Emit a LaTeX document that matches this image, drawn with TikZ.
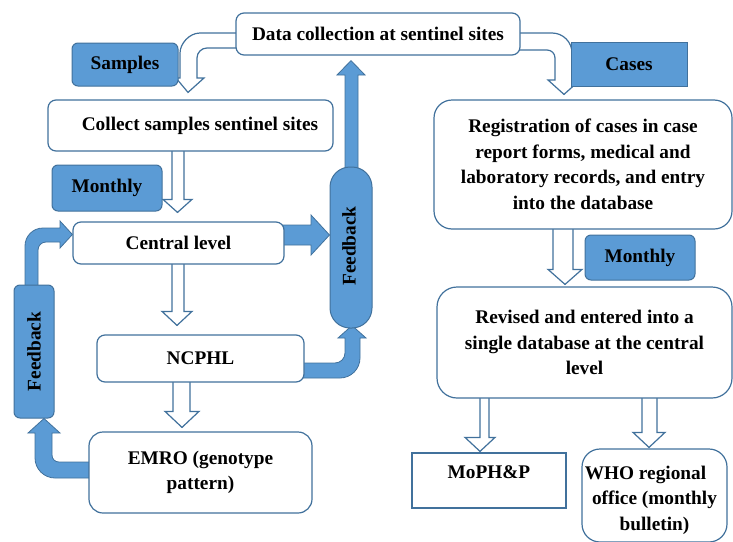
\documentclass[tikz,border=0pt]{standalone}
\usepackage{fontspec}
\setmainfont{Liberation Serif}
\usetikzlibrary{calc}
\pgfdeclarelayer{bg}
\pgfsetlayers{bg,main}
\definecolor{bl}{HTML}{5B9BD5}
\definecolor{bd}{HTML}{41719C}
\newcommand\hollowdown[8]{%
  \path[hollow] let \p1=(#1.south), \p2=(#2.north) in
  (#3,\y1+2pt) -- (#3,\y2+#8pt+#7pt) -- (#5,\y2+#8pt+#7pt) -- ({(#5+#6)/2},\y2+#8pt)
  -- (#6,\y2+#8pt+#7pt) -- (#4,\y2+#8pt+#7pt) -- (#4,\y1+2pt) -- cycle;}
\begin{document}
\begin{tikzpicture}[x=1pt,y=-1pt,
  every node/.style={font=\fontsize{19.3}{25.5}\selectfont\bfseries, inner sep=0pt, align=center},
  wbox/.style={draw=bd, fill=white, line width=1.2pt, rounded corners=8pt},
  sqbox/.style={draw=bd, fill=white, line width=1.2pt},
  bbox/.style={draw=bd, fill=bl, line width=1pt, rounded corners=6pt},
  sqbbox/.style={draw=bd, fill=bl, line width=1pt},
  hollow/.style={draw=bd, fill=white, line width=1.2pt, line join=miter},
  solidarr/.style={draw=bd, fill=bl, line width=0.8pt, line join=miter}]
\useasboundingbox (0,0) rectangle (733,541);

% boxes
\node[wbox, minimum width=284pt, minimum height=42pt] (data) at (378,34) {Data collection at sentinel sites};
\node[bbox, minimum width=106pt, minimum height=43pt] (samples) at (125,64.5) {Samples};
\node[wbox, minimum width=285pt, minimum height=51pt] (collect) at (190.5,125.5) {\hspace*{19pt}Collect samples sentinel sites};
\node[bbox, minimum width=110pt, minimum height=46pt] (monthlyL) at (107,188) {Monthly};
\node[wbox, minimum width=211pt, minimum height=42pt] (central) at (178.5,243) {Central level};
\node[bbox, rounded corners=20pt, minimum width=42pt, minimum height=161pt,
      label={[rotate=90, xshift=1.5pt, yshift=2pt]center:Feedback}] (fbR) at (351,247.5) {};
\node[wbox, minimum width=207pt, minimum height=47pt] (ncphl) at (200.5,358.5) {NCPHL};
\node[wbox, rounded corners=14pt, minimum width=223pt, minimum height=81pt] (emro) at (200.5,472.5) {EMRO (genotype\\pattern)};
\node[bbox, minimum width=40pt, minimum height=133pt,
      label={[rotate=90]center:Feedback}] (fbL) at (34,351.5) {};
\node[sqbbox, minimum width=116pt, minimum height=44pt] (cases) at (629,64) {Cases};
\node[wbox, rounded corners=18pt, minimum width=298pt, minimum height=129pt] (reg) at (583,164.5)
  {Registration of cases in case\\report forms, medical and\\laboratory records, and entry\\into the database};
\node[bbox, minimum width=110pt, minimum height=45pt] (monthlyR) at (640,257.5) {Monthly};
\node[wbox, rounded corners=20pt, minimum width=295pt, minimum height=111pt] (revised) at (584.5,342.5)
  {Revised and entered into a\\single database at the central\\level};
\node[sqbox, minimum width=154pt, minimum height=55pt,
      label={[anchor=north, yshift=-13pt]north:MoPH\&P}] (moph) at (489,480.5) {};
\node[wbox, rounded corners=18pt, minimum width=145pt, minimum height=93pt,
      label={[align=center, yshift=-4.5pt]center:WHO regional\hspace*{18pt}\\office (monthly\\bulletin)}] (who) at (654.5,495.5) {};

\begin{pgfonlayer}{bg}
% curved hollow arrows from the top box
\path[hollow] let \p1=(data.west), \p2=(collect.north) in
  (\x1+2pt,33) -- (200,33) .. controls (189,33) and (180,44) .. (180,53) -- (180,78) -- (176,78)
  -- (188,\y2+7pt) -- (204,78) -- (197,78) -- (197,58) .. controls (197,52.5) and (201.5,48) .. (207,48)
  -- (\x1+2pt,48) -- cycle;
\path[hollow] let \p1=(data.east), \p2=(reg.north) in
  (\x1-2pt,33) -- (552,33) .. controls (563,33) and (572,42) .. (572,53) -- (572,80) -- (580,80)
  -- (564,\y2+5pt) -- (548,80) -- (555,80) -- (555,58) .. controls (555,53.5) and (551.5,50) .. (547,50)
  -- (\x1-2pt,50) -- cycle;
% straight hollow arrows
\hollowdown{collect}{central}{172}{184}{163}{192}{13}{9}
\hollowdown{central}{ncphl}{172}{184}{162}{192}{14}{9}
\hollowdown{ncphl}{emro}{173}{190}{165}{199}{16}{4}
\hollowdown{reg}{revised}{553}{573}{548}{582}{15}{2}
\hollowdown{revised}{moph}{480}{489}{465}{495}{14}{1}
\hollowdown{revised}{who}{642}{657}{633}{665}{15}{1}
% solid feedback arrows
\path[solidarr] let \p1=(central.east), \p2=(fbR.west) in
  (\x1-2pt,225) -- (311,225) -- (311,215) -- (\x2,235) -- (311,255) -- (311,245) -- (\x1-2pt,245) -- cycle;
\path[solidarr] let \p1=(fbR.north), \p2=(data.south) in
  (345,\y1-8pt) -- (345,75) -- (337,75) -- (351,\y2-5pt) -- (365,75) -- (358,75) -- (358,\y1-8pt) -- cycle;
\path[solidarr] let \p1=(ncphl.east), \p2=(fbR.south) in
  (\x1-2pt,363) -- (335,363) .. controls (340.5,363) and (345,358.5) .. (345,353) -- (345,338) -- (338,338)
  -- (352,\y2+3pt) -- (366,338) -- (360,338) -- (360,358) .. controls (360,369) and (351,378) .. (340,378)
  -- (\x1-2pt,378) -- cycle;
\path[solidarr] let \p1=(emro.west), \p2=(fbL.south) in
  (\x1+2pt,478) -- (55,478) .. controls (44,478) and (35,469) .. (35,458) -- (35,433) -- (28,433)
  -- (44,\y2) -- (60,433) -- (52,433) -- (52,455) .. controls (52,459) and (55,462) .. (59,462)
  -- (\x1+2pt,462) -- cycle;
\path[solidarr] let \p1=(fbL.north), \p2=(central.west) in
  (25,\y1-2pt) -- (25,246) .. controls (25,236) and (33,228) .. (43,228) -- (60,228) -- (60,221)
  -- (\x2,234.5) -- (60,248) -- (60,242) -- (46,242) .. controls (41.6,242) and (38,245.6) .. (38,250)
  -- (38,\y1-2pt) -- cycle;
\end{pgfonlayer}
\end{tikzpicture}
\end{document}
